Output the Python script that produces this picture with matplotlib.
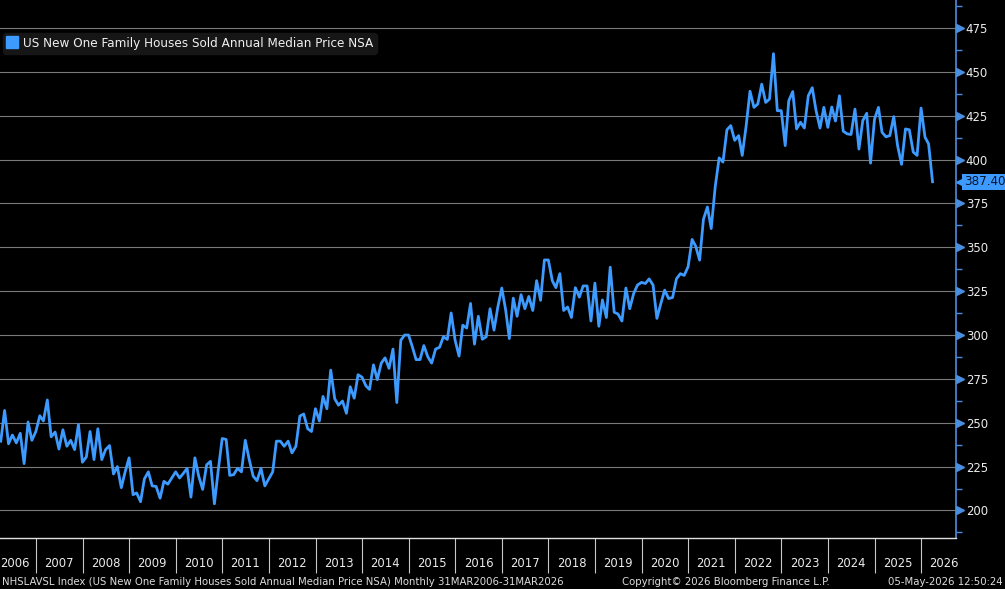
import matplotlib.pyplot as plt
import matplotlib.dates as mdates
import matplotlib.transforms as mtransforms
from matplotlib.lines import Line2D
from matplotlib.ticker import MultipleLocator, FixedLocator, FixedFormatter
import numpy as np
import pandas as pd

plt.rcParams['font.family'] = ['DejaVu Sans']
plt.rcParams['font.stretch'] = 'condensed'

# monthly values (thousand USD), Mar 2006 .. Mar 2026
price_2006 = [239.5, 257, 238, 243, 238.5, 244, 226.7, 250.4, 240, 245]
price_2007 = [254, 251, 263, 242, 244.7, 235, 246, 236.6, 240, 234.7, 249, 227.5]
price_2008 = [230.5, 245, 229, 246.6, 229, 234.7, 237, 220.8, 225, 213, 222, 230]
price_2009 = [209, 210, 205, 218, 222, 214, 213.7, 207, 216.6, 215, 218.5, 222]
price_2010 = [218.5, 221, 224, 207.6, 230, 219.5, 212, 226, 228, 203.8, 223, 241]
price_2011 = [240.5, 220, 220.4, 224, 222, 240, 229, 219.5, 217, 224, 214, 218]
price_2012 = [222, 239.5, 239.5, 236.6, 239.5, 232.8, 236.6, 253.8, 255, 246.6, 245, 258]
price_2013 = [251, 265, 258, 280, 263.7, 260, 262.4, 255.4, 270.5, 264, 277.4, 276]
price_2014 = [271, 269, 283, 274.6, 284, 287, 281, 292, 261.5, 297, 300, 300]
price_2015 = [293, 286, 286, 294, 287.6, 284, 292, 293, 299, 297.5, 312.6, 297]
price_2016 = [288, 305.6, 304, 318, 294.8, 310.7, 297.6, 299, 315, 302.8, 316, 326.8]
price_2017 = [314, 298, 321, 310.7, 323, 315, 322, 314, 331, 319.8, 342.8, 342.8]
price_2018 = [331, 327, 335, 314, 316, 310, 327, 321.6, 328, 328, 308, 329.6]
price_2019 = [305, 320, 310, 338.7, 313, 312, 308, 326.8, 315, 323.7, 328.5, 330]
price_2020 = [329.4, 332, 328.5, 309.5, 318, 325.6, 320.8, 321.4, 332, 335, 334, 339]
price_2021 = [354.5, 350.7, 342.7, 366, 373, 360.7, 384.4, 401, 398.6, 417, 419.4, 411]
price_2022 = [413.7, 402.4, 419.4, 439, 429.8, 431.7, 443, 432.6, 434.5, 460.4, 427.9, 427.9]
price_2023 = [408, 433.6, 438.8, 417.5, 421.3, 418, 436.4, 441, 427.9, 418, 429.8, 418.4]
price_2024 = [430, 422, 436.4, 416.2, 414.7, 414.3, 428.8, 406, 422.2, 426.4, 398, 423]
price_2025 = [429.8, 415.6, 413, 413.7, 424.5, 408, 397.3, 417.5, 417, 404.3, 402.4, 429.4]
price_2026 = [412.8, 409, 387.4]

price = (price_2006 + price_2007 + price_2008 + price_2009 + price_2010 + price_2011
         + price_2012 + price_2013 + price_2014 + price_2015 + price_2016 + price_2017
         + price_2018 + price_2019 + price_2020 + price_2021 + price_2022 + price_2023
         + price_2024 + price_2025 + price_2026)
dates = pd.date_range("2006-03-31", "2026-03-31", freq="ME")

years = list(range(2006, 2027))
yticks = list(range(200, 476, 25))
series_name = "US New One Family Houses Sold Annual Median Price NSA"
footer_left = ("NHSLAVSL Index (US New One Family Houses Sold Annual Median Price NSA) "
               "Monthly 31MAR2006-31MAR2026")
footer_mid = "Copyright\u00a9 2026 Bloomberg Finance L.P."
footer_right = "05-May-2026 12:50:24"

blue = '#3d9bff'
axis_blue = '#4a8ee0'

fig = plt.figure(figsize=(10.05, 5.89), dpi=100, facecolor='black')
ax = fig.add_axes([0, 1 - 538 / 589, 956 / 1005, 538 / 589])
ax.set_facecolor('black')

ax.plot(dates, price, color=blue, lw=2.0, solid_joinstyle='round')

x_start = pd.Timestamp('2006-03-25')
ax.set_xlim(x_start, pd.Timestamp('2026-10-01'))
ax.set_ylim(184.3, 491)

# y axis on the right
ax.yaxis.tick_right()
ax.set_yticks(yticks)
ax.yaxis.set_minor_locator(MultipleLocator(12.5))
ax.tick_params(axis='y', which='major', length=0, pad=7, labelsize=9.4, labelcolor='#ececec')
ax.tick_params(axis='y', which='minor', length=4, width=1, color=axis_blue, direction='out')
ax.yaxis.grid(True, color='#7a7a7a', lw=0.8)
ax.set_axisbelow(True)

tri_trans = (mtransforms.blended_transform_factory(ax.transAxes, ax.transData)
             + mtransforms.ScaledTranslation(0.04, 0, fig.dpi_scale_trans))
ax.plot([1.0] * len(yticks), yticks, linestyle='none', marker='>', markersize=5.5,
        color=axis_blue, transform=tri_trans, clip_on=False)

# x axis: year separators and year labels in the middle of each year
mid_year = [x_start] + [pd.Timestamp(f'{y}-07-01') for y in years[1:]]
ax.xaxis.set_major_locator(mdates.YearLocator())
ax.xaxis.set_major_formatter(plt.NullFormatter())
ax.xaxis.set_minor_locator(FixedLocator(mdates.date2num(mid_year)))
ax.xaxis.set_minor_formatter(FixedFormatter([str(y) for y in years]))
ax.tick_params(axis='x', which='major', length=25, width=0.8, color='#c8c8c8', direction='out')
ax.tick_params(axis='x', which='minor', length=0, pad=13.5, labelsize=9.3, labelcolor='#ececec')
# first year is only partly shown, keep its label inside the figure
ax.xaxis.get_minor_ticks()[0].label1.set_horizontalalignment('left')

for side in ['top', 'left']:
    ax.spines[side].set_visible(False)
ax.spines['right'].set_color(axis_blue)
ax.spines['right'].set_linewidth(1.2)
ax.spines['bottom'].set_color('#e0e0e0')
ax.spines['bottom'].set_linewidth(1.0)

# last value tag
last = price[-1]
tag_trans = (mtransforms.blended_transform_factory(ax.transAxes, ax.transData)
             + mtransforms.ScaledTranslation(0.08, 0, fig.dpi_scale_trans))
ax.text(1.0, last, f'{last:.2f}', transform=tag_trans, ha='left', va='center',
        fontsize=9.5, color='#06142e',
        bbox=dict(boxstyle='square,pad=0.12', fc=blue, ec='none'), clip_on=False)
arrow_trans = (mtransforms.blended_transform_factory(ax.transAxes, ax.transData)
               + mtransforms.ScaledTranslation(0.055, 0, fig.dpi_scale_trans))
ax.plot([1.0], [last], linestyle='none', marker='<', markersize=9, color=blue,
        transform=arrow_trans, clip_on=False)

# legend
handle = Line2D([], [], linestyle='none', marker='s', markersize=8, color=blue)
leg = ax.legend([handle], [series_name], loc='upper left', bbox_to_anchor=(0.003, 0.9385),
                borderaxespad=0, frameon=True, fancybox=True, facecolor='#161616',
                edgecolor='#161616', framealpha=1, fontsize=9.6, handlelength=0.8,
                handletextpad=0.4, borderpad=0.3, labelcolor='#f0f0f0')

# footer
footer_y = 1 - 582 / 589
fig.text(2 / 1005, footer_y, footer_left, color='#dcdcdc', fontsize=8.1,
         ha='left', va='center')
fig.text(622 / 1005, footer_y, footer_mid, color='#dcdcdc', fontsize=8.1,
         ha='left', va='center')
fig.text(1003 / 1005, footer_y, footer_right, color='#dcdcdc', fontsize=8.1,
         ha='right', va='center')

fig.savefig('out.png', dpi=100, facecolor='black')
